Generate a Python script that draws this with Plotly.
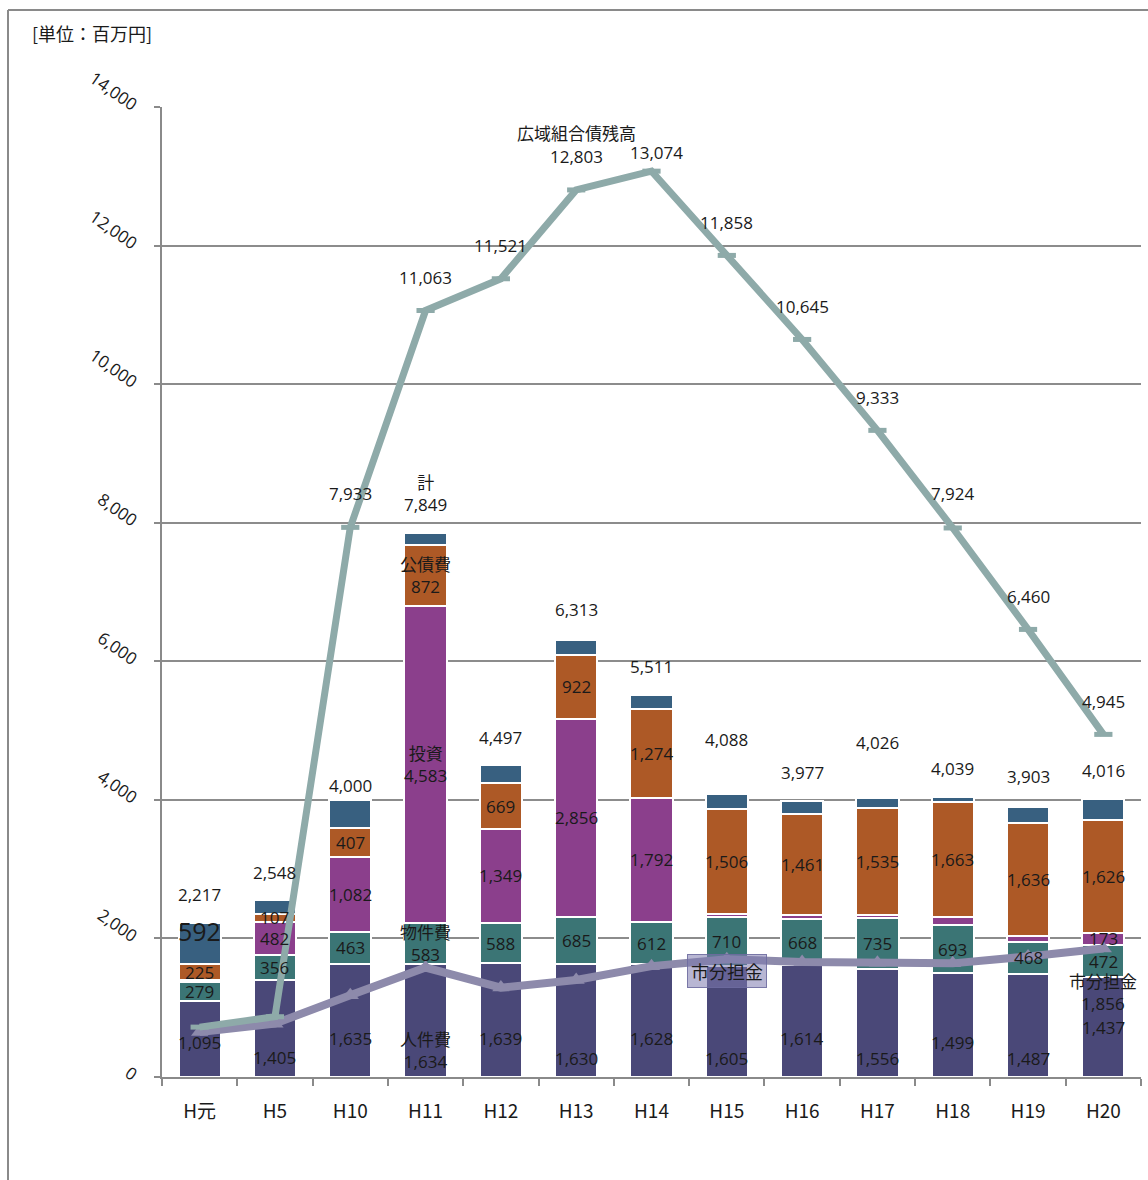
import plotly.graph_objects as go

# 年度
categories = ["H元", "H5", "H10", "H11", "H12", "H13", "H14",
              "H15", "H16", "H17", "H18", "H19", "H20"]

# 歳出内訳（百万円）
personnel = [1095, 1405, 1635, 1634, 1639, 1630, 1628, 1605, 1614, 1556, 1499, 1487, 1437]   # 人件費
supplies = [279, 356, 463, 583, 588, 685, 612, 710, 668, 735, 693, 468, 472]                # 物件費
investment = [26, 482, 1082, 4583, 1349, 2856, 1792, 40, 50, 50, 120, 80, 173]               # 投資
debt = [225, 107, 407, 872, 669, 922, 1274, 1506, 1461, 1535, 1663, 1636, 1626]              # 公債費
totals = [2217, 2548, 4000, 7849, 4497, 6313, 5511, 4088, 3977, 4026, 4039, 3903, 4016]      # 計
other = [t - (a + b + c + d) for t, a, b, c, d in zip(totals, personnel, supplies, investment, debt)]

# 広域組合債残高（百万円）
bond_balance = [720, 870, 7933, 11063, 11521, 12803, 13074, 11858, 10645, 9333, 7924, 6460, 4945]
bond_labeled = [False, False, True, True, True, True, True, True, True, True, True, True, True]

# 市分担金（百万円）
city_share = [650, 770, 1180, 1580, 1290, 1400, 1600, 1700, 1660, 1650, 1640, 1740, 1856]

# 表示するラベル（値が小さい区分は省略）
supplies_labeled = [True] * 13
investment_labeled = [False, True, True, True, True, True, True, False, False, False, False, False, True]
debt_labeled = [True] * 13
other_labeled = [True] + [False] * 12

# ラベル位置の調整（ピクセル）
personnel_label_shift = [-3, -29, -18, -30, -18, -38, -18, -37, -17, -35, -17, -33, 0]
total_label_gap = [29, 28, 14, 40, 28, 30, 29, 54, 29, 56, 29, 30, 28]
bond_label_gap = [33, 33, 34, 33, 33, 33, 19, 33, 33, 33, 34, 33, 33]
bond_label_xshift = [0, 0, 0, 0, 0, 0, 5, 0, 0, 0, 0, 0, 0]

C_PERSONNEL = "#4a4878"
C_SUPPLIES = "#3b7575"
C_INVEST = "#8b3f8c"
C_DEBT = "#ad5926"
C_OTHER = "#386080"
C_BOND = "#8eaaa9"
C_SHARE = "#8d8aab"

FONT = "Open Sans, Noto Sans CJK JP"
JFONT = "Noto Sans CJK JP"
TXT = "#1a1a1a"
BAR_W = 0.56

fig = go.Figure()
for name, vals, col in [("人件費", personnel, C_PERSONNEL),
                        ("物件費", supplies, C_SUPPLIES),
                        ("投資", investment, C_INVEST),
                        ("公債費", debt, C_DEBT),
                        ("その他", other, C_OTHER)]:
    fig.add_trace(go.Bar(x=categories, y=vals, name=name, width=BAR_W,
                         marker=dict(color=col, line=dict(color="white", width=2)),
                         hoverinfo="x+y+name"))

fig.add_trace(go.Scatter(x=categories, y=city_share, mode="lines+markers", name="市分担金",
                         line=dict(color=C_SHARE, width=8),
                         marker=dict(symbol="triangle-up", size=15, color=C_SHARE)))
fig.add_trace(go.Scatter(x=categories, y=bond_balance, mode="lines+markers", name="広域組合債残高",
                         line=dict(color=C_BOND, width=7),
                         marker=dict(symbol="line-ew", size=13,
                                     line=dict(color=C_BOND, width=5))))

ann = []


def label(x, y, text, yshift=0, xshift=0, size=17, family=FONT, **kw):
    d = dict(x=x, y=y, text=text, showarrow=False, yshift=yshift, xshift=xshift,
             font=dict(family=family, size=size, color=TXT), xanchor="center", yanchor="middle")
    d.update(kw)
    ann.append(d)


def fmt(v):
    return f"{v:,}"


for i, cat in enumerate(categories):
    b0 = 0
    b1 = personnel[i]
    b2 = b1 + supplies[i]
    b3 = b2 + investment[i]
    b4 = b3 + debt[i]
    b5 = totals[i]
    first = (cat == "H11")

    # 人件費
    t = ("人件費<br>" if first else "") + fmt(personnel[i])
    label(cat, (b0 + b1) / 2, t, yshift=personnel_label_shift[i])
    # 物件費
    if supplies_labeled[i]:
        t = ("物件費<br>" if first else "") + fmt(supplies[i])
        label(cat, (b1 + b2) / 2, t)
    # 投資
    if investment_labeled[i]:
        t = ("投資<br>" if first else "") + fmt(investment[i])
        label(cat, (b2 + b3) / 2, t)
    # 公債費
    if debt_labeled[i]:
        t = ("公債費<br>" if first else "") + fmt(debt[i])
        label(cat, (b3 + b4) / 2, t)
    # その他
    if other_labeled[i]:
        label(cat, (b4 + b5) / 2, fmt(other[i]), yshift=13, size=25)
    # 計
    t = ("計<br>" if first else "") + fmt(totals[i])
    label(cat, b5, t, yshift=total_label_gap[i])

    # 広域組合債残高
    if bond_labeled[i]:
        label(cat, bond_balance[i], fmt(bond_balance[i]),
              yshift=bond_label_gap[i], xshift=bond_label_xshift[i])

# 系列名
label("H13", bond_balance[5], "広域組合債残高", yshift=57, family=JFONT)
label("H15", city_share[7], "市分担金", yshift=-12, size=18, family=JFONT,
      bgcolor="rgba(125,122,175,0.55)", bordercolor="rgba(110,108,160,0.9)",
      borderwidth=1, borderpad=3)
label("H20", city_share[12], "市分担金<br>1,856", yshift=-44)

# 単位
ann.append(dict(x=-0.1348, y=1.0763, xref="paper", yref="paper", text="[単位：百万円]",
                showarrow=False, xanchor="left", yanchor="middle",
                font=dict(family=JFONT, size=18, color=TXT)))

FRAME = "#8a8a8a"
shapes = [
    dict(type="line", xref="paper", yref="paper", x0=-0.1573, x1=-0.1573, y0=-0.11, y1=1.1,
         line=dict(color=FRAME, width=2)),
    dict(type="line", xref="paper", yref="paper", x0=-0.1573, x1=1.01, y0=1.1, y1=1.1,
         line=dict(color=FRAME, width=2)),
]

fig.update_layout(
    width=1148, height=1180,
    margin=dict(l=162, r=7, t=107, b=103, autoexpand=False),
    plot_bgcolor="white", paper_bgcolor="white",
    barmode="stack", showlegend=False,
    annotations=ann, shapes=shapes,
    font=dict(family=FONT, color=TXT),
    xaxis=dict(range=[-0.5, 12.5], showline=True, linecolor="#8a8a8a", linewidth=2,
               ticks="outside", tickson="boundaries", ticklen=7, tickcolor="#8a8a8a", tickwidth=1.5,
               ticklabelstandoff=16,
               showgrid=False, tickfont=dict(family=JFONT, size=19, color=TXT)),
    yaxis=dict(range=[0, 14000], dtick=2000, tickformat=",", tickangle=35,
               showline=True, linecolor="#8a8a8a", linewidth=2,
               ticks="outside", ticklen=6, tickcolor="#8a8a8a", tickwidth=1.5,
               ticklabelstandoff=14,
               showgrid=True, gridcolor="#8c8c8c", gridwidth=1.5, zeroline=False,
               tickfont=dict(family=FONT, size=17, color=TXT)),
)

fig.write_html("out.html")
